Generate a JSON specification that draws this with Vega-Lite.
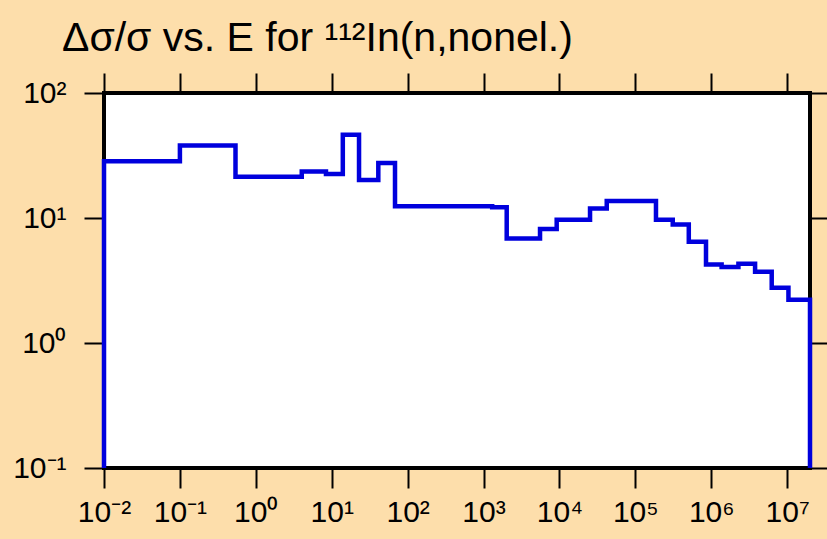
{
  "$schema": "https://vega.github.io/schema/vega-lite/v6.json",
  "width": 706,
  "height": 375,
  "autosize": {"type": "none"},
  "padding": {"left": 104, "top": 93, "right": 17, "bottom": 71},
  "background": "#fddeab",
  "title": {
    "text": "Δσ/σ vs. E for ¹¹²In(n,nonel.)",
    "anchor": "start",
    "frame": "group",
    "dx": -42,
    "offset": -20,
    "baseline": "alphabetic",
    "font": "Liberation Sans",
    "fontSize": 41,
    "fontWeight": "normal",
    "color": "black"
  },
  "data": {
    "values": [
      {"i": 0, "E": 0.01, "v": 0.1},
      {"i": 1, "E": 0.01, "v": 28.4},
      {"i": 2, "E": 0.1, "v": 38.1},
      {"i": 3, "E": 0.54, "v": 21.4},
      {"i": 4, "E": 4.03, "v": 23.6},
      {"i": 5, "E": 8.4, "v": 22.5},
      {"i": 6, "E": 14.0, "v": 46.4},
      {"i": 7, "E": 22.9, "v": 20.1},
      {"i": 8, "E": 41.1, "v": 27.5},
      {"i": 9, "E": 68.2, "v": 12.4},
      {"i": 10, "E": 1300, "v": 12.2},
      {"i": 11, "E": 2020, "v": 6.87},
      {"i": 12, "E": 5550, "v": 8.17},
      {"i": 13, "E": 9200, "v": 9.69},
      {"i": 14, "E": 25300, "v": 11.9},
      {"i": 15, "E": 42000, "v": 13.7},
      {"i": 16, "E": 187000, "v": 9.69},
      {"i": 17, "E": 311000, "v": 8.89},
      {"i": 18, "E": 506000, "v": 6.46},
      {"i": 19, "E": 853000, "v": 4.25},
      {"i": 20, "E": 1370000, "v": 4.06},
      {"i": 21, "E": 2280000, "v": 4.3},
      {"i": 22, "E": 3780000, "v": 3.71},
      {"i": 23, "E": 6260000, "v": 2.77},
      {"i": 24, "E": 10400000, "v": 2.22},
      {"i": 25, "E": 20000000, "v": 2.22},
      {"i": 26, "E": 20000000, "v": 0.1}
    ]
  },
  "resolve": {"axis": {"x": "independent", "y": "independent"}},
  "layer": [
    {
      "mark": {"type": "line", "interpolate": "step-after", "color": "#0000dd", "strokeWidth": 4.5, "strokeJoin": "miter", "strokeCap": "butt"},
      "encoding": {
        "x": {
          "field": "E", "type": "quantitative",
          "scale": {"type": "log", "domain": [0.01, 20000000], "nice": false},
          "axis": {
            "orient": "bottom", "title": null,
            "values": [0.01, 0.1, 1, 10, 100, 1000, 10000, 100000, 1000000, 10000000],
            "labelExpr": "'10' + ['⁻²','⁻¹','⁰','¹','²','³','⁴','⁵','⁶','⁷'][round(log(datum.value)/LN10)+2]",
            "labelPadding": 9
          }
        },
        "y": {
          "field": "v", "type": "quantitative",
          "scale": {"type": "log", "domain": [0.1, 100], "nice": false},
          "axis": {
            "orient": "left", "title": null,
            "values": [0.1, 1, 10, 100],
            "labelExpr": "'10' + ['⁻¹','⁰','¹','²'][round(log(datum.value)/LN10)+1]",
            "labelPadding": 18
          }
        },
        "order": {"field": "i", "type": "quantitative"}
      }
    },
    {
      "mark": {"type": "line", "opacity": 0},
      "encoding": {
        "x": {
          "field": "E", "type": "quantitative",
          "axis": {
            "orient": "top", "title": null, "labels": false,
            "values": [0.01, 0.1, 1, 10, 100, 1000, 10000, 100000, 1000000, 10000000]
          }
        },
        "y": {
          "field": "v", "type": "quantitative",
          "axis": {
            "orient": "right", "title": null, "labels": false,
            "values": [0.1, 1, 10, 100]
          }
        },
        "order": {"field": "i", "type": "quantitative"}
      }
    }
  ],
  "config": {
    "view": {"stroke": "black", "strokeWidth": 4, "fill": "white"},
    "axis": {
      "domain": false,
      "grid": false,
      "ticks": true,
      "tickColor": "black",
      "tickWidth": 2,
      "tickSize": 20,
      "labelFont": "Liberation Sans",
      "labelFontSize": 30,
      "labelColor": "black",
      "labelOverlap": false,
      "labelFlush": false
    }
  }
}
